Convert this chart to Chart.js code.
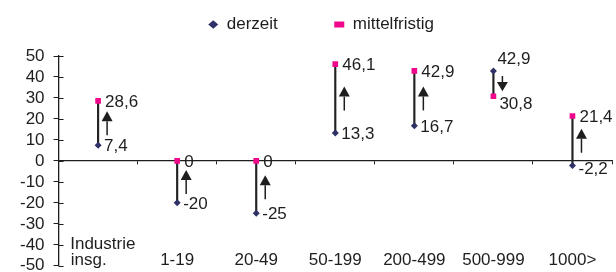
<!DOCTYPE html>
<html>
<head>
<meta charset="utf-8">
<script src="https://cdn.jsdelivr.net/npm/chart.js@4/dist/chart.umd.min.js"></script>
<style>
  html, body { margin: 0; padding: 0; overflow: hidden; background: #fff; }
  #wrap { width: 616px; height: 285px; position: relative; }
</style>
</head>
<body>
<div id="wrap"><canvas id="chart"></canvas></div>
<script>
const categories = [['\u00a0\u00a0Industrie', 'insg.\u00a0\u00a0\u00a0\u00a0'], ['', '1-19'], ['', '20-49'], ['', '50-199'], ['', '200-499'], ['', '500-999'], ['', '1000>']];
const derzeit = [7.4, -20, -25, 13.3, 16.7, 42.9, -2.2];
const mittelfristig = [28.6, 0, 0, 46.1, 42.9, 30.8, 21.4];
const yTicks = [-50, 50, 10];

const fmt = v => String(v).replace('.', ',');
const FAMILY = '"Liberation Sans", Arial, sans-serif';
const SIZE = 17;
const FONT = SIZE + 'px ' + FAMILY;
const INK = '#1e1e1e';

// Werte neben die Punkte schreiben + Pfeile zwischen derzeit und mittelfristig
const annotations = {
    id: 'annotations',
    beforeInit(chart) {
        // etwas mehr Luft unter der Legende
        const fit = chart.legend.fit;
        chart.legend.fit = function () {
            fit.bind(chart.legend)();
            this.height += 13;
        };
    },
    afterDatasetsDraw(chart) {
        const ctx = chart.ctx;
        const xs = chart.scales.x, ys = chart.scales.y;
        ctx.save();
        ctx.font = FONT;
        ctx.fillStyle = INK;
        ctx.textAlign = 'left';
        ctx.textBaseline = 'middle';
        derzeit.forEach((d, i) => {
            const m = mittelfristig[i];
            const x = xs.getPixelForValue(i);
            const yd = ys.getPixelForValue(d);
            const ym = ys.getPixelForValue(m);
            if (d > m) {
                ctx.fillText(fmt(d), x + 4, yd - 12);
                ctx.fillText(fmt(m), x + 6, ym + 8);
            } else {
                ctx.fillText(fmt(m), x + 7, ym + 1);
                ctx.fillText(fmt(d), x + 6, yd + (d < 0 && d > -5 ? 4 : 1));
            }

            // Pfeil
            const ax = x + 9;
            const mid = (yd + ym) / 2;
            const len = Math.min(24, Math.abs(ym - yd) * 0.6);
            const dir = ym < yd ? -1 : 1;
            const tip = mid + dir * len / 2;
            const tail = mid - dir * len / 2;
            const headH = Math.min(10, len * 0.6), headW = 11;
            ctx.strokeStyle = INK;
            ctx.lineWidth = 1.5;
            ctx.beginPath();
            ctx.moveTo(ax, tail);
            ctx.lineTo(ax, tip - dir * headH);
            ctx.stroke();
            ctx.beginPath();
            ctx.moveTo(ax, tip);
            ctx.lineTo(ax - headW / 2, tip - dir * headH);
            ctx.lineTo(ax + headW / 2, tip - dir * headH);
            ctx.closePath();
            ctx.fill();
        });

        // Teilstriche der y-Achse nach innen verlaengern
        ctx.strokeStyle = INK;
        ctx.lineWidth = 1;
        ys.ticks.forEach(t => {
            const y = Math.round(ys.getPixelForValue(t.value)) + 0.5;
            ctx.beginPath();
            ctx.moveTo(chart.chartArea.left, y);
            ctx.lineTo(chart.chartArea.left + 5, y);
            ctx.stroke();
        });
        ctx.restore();
    }
};

const legendGap = { derzeit: 9, mittelfristig: 6 };

new Chart(document.getElementById('chart'), {
    type: 'bar',
    data: {
        labels: categories,
        datasets: [
            {
                label: 'spanne',
                data: derzeit.map((d, i) => [d, mittelfristig[i]]),
                backgroundColor: '#222',
                borderWidth: 0,
                barThickness: 1.5,
                grouped: false,
                order: 3
            },
            {
                type: 'line',
                label: 'derzeit',
                data: derzeit,
                showLine: false,
                pointStyle: 'rectRot',
                pointRadius: 3.5,
                backgroundColor: '#2e3166',
                borderColor: '#2e3166',
                borderWidth: 0,
                order: 1
            },
            {
                type: 'line',
                label: 'mittelfristig',
                data: mittelfristig,
                showLine: false,
                pointStyle: 'rect',
                pointRadius: 4,
                backgroundColor: '#f0078c',
                borderColor: '#f0078c',
                borderWidth: 0,
                order: 2
            }
        ]
    },
    options: {
        responsive: true,
        maintainAspectRatio: false,
        animation: false,
        layout: { padding: { left: 11, right: 4, top: 2, bottom: 4 } },
        plugins: {
            tooltip: { enabled: false },
            legend: {
                position: 'top',
                fullSize: false,
                labels: {
                    filter: item => item.datasetIndex !== 0,
                    generateLabels: chart => Chart.defaults.plugins.legend.labels.generateLabels(chart)
                        .map(l => Object.assign(l, { text: l.text + '\u00a0'.repeat(legendGap[l.text] || 0) })),
                    usePointStyle: true,
                    boxHeight: 6,
                    pointStyleWidth: 10,
                    padding: 14,
                    color: INK,
                    font: { family: FAMILY, size: SIZE }
                }
            }
        },
        scales: {
            x: {
                type: 'category',
                position: { y: 0 },
                ticks: { display: false },
                grid: { offset: true, drawOnChartArea: false, tickLength: 3, color: INK },
                border: { color: INK, width: 1.3 }
            },
            x2: {
                type: 'category',
                labels: categories,
                position: { y: -36 },
                offset: true,
                grid: { display: false, drawTicks: false },
                border: { display: false },
                ticks: {
                    color: INK,
                    padding: 0,
                    maxRotation: 0,
                    autoSkip: false,
                    font: { family: FAMILY, size: SIZE, lineHeight: 0.95 }
                }
            },
            y: {
                min: yTicks[0],
                max: yTicks[1],
                ticks: {
                    stepSize: yTicks[2],
                    autoSkip: false,
                    color: INK,
                    padding: 9,
                    font: { family: FAMILY, size: SIZE }
                },
                grid: { drawOnChartArea: false, tickLength: 5, color: INK },
                border: { color: INK, width: 1.3 }
            }
        }
    },
    plugins: [annotations]
});
</script>
</body>
</html>
